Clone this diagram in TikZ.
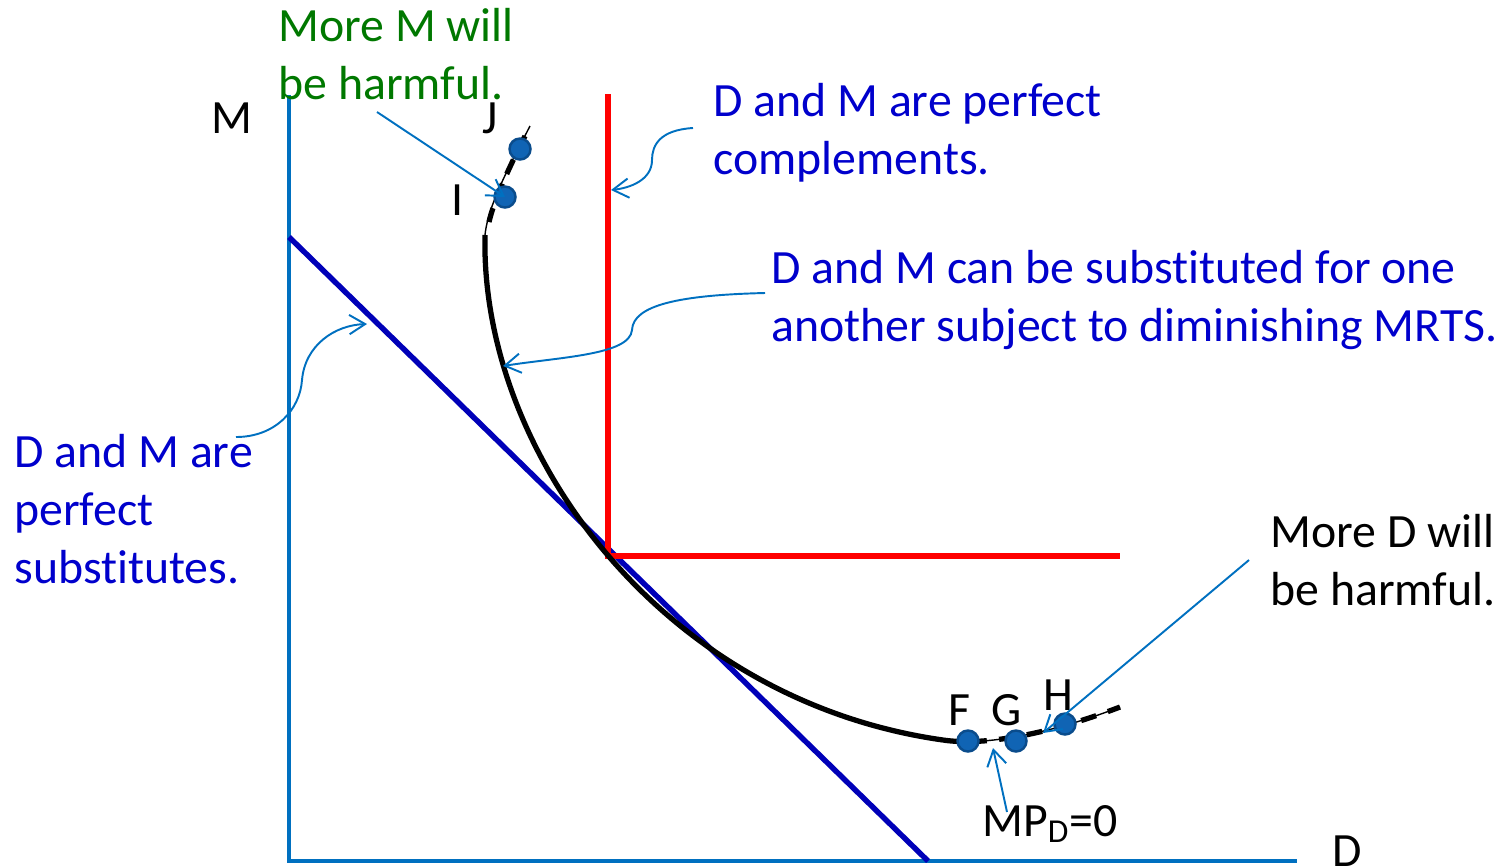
\documentclass[tikz,border=0pt]{standalone}
\usepackage{fontspec}
\setmainfont{Carlito}[RawFeature=-liga]
\usetikzlibrary{arrows.meta}
\definecolor{axisblue}{RGB}{0,112,192}
\definecolor{txtblue}{RGB}{0,0,204}
\definecolor{txtgreen}{RGB}{0,120,0}
\definecolor{dotfill}{RGB}{16,100,180}
\definecolor{dotline}{RGB}{10,76,140}
\begin{document}
\begin{tikzpicture}[x=0.02cm,y=-0.02cm,
    lbl/.style={font=\fontsize{27.2}{32.9}\selectfont,inner sep=0pt,align=left,anchor=base west},
    pt/.style={font=\fontsize{27.2}{32.9}\selectfont,inner sep=0pt},
    dot/.style={circle,fill=dotfill,draw=dotline,line width=1.4pt,minimum size=0.42cm,inner sep=0pt},
    note/.style={axisblue,line width=1.1pt,-{Straight Barb[length=9pt,width=11pt]}}]
    \useasboundingbox (0,0) rectangle (1503,867);
    % axes and the two extreme isoquants
    \draw [axisblue,line width=2.6pt] (289,95) -- (289,861) -- (1297,861);
    \draw [txtblue!90!black,line width=3.1pt] (289,237) -- (928,861);
    \draw [red,line width=3.5pt] (608,94) -- (608,556) -- (1120,556);
    \node [pt] (M) at (232,118) {M};
    \node [pt,anchor=base] (D) at (1347,866) {D};
    % the usual isoquant, dashed where it bends back
    \draw [line width=3pt] (485,235) .. controls (480,450) and (660,700) .. (943,740);
    \draw [line width=0.8pt] (530,126) .. controls (510,165) and (488,205) .. (485,235);
    \draw [line width=3pt,dash pattern=on 9pt off 6pt] (525,136) .. controls (508,170) and (494,200) .. (489,222);
    \draw [line width=0.8pt] (943,740) .. controls (990,747) and (1060,730) .. (1120,707);
    \draw [line width=3pt,dash pattern=on 9pt off 7pt] (943,740) .. controls (990,747) and (1060,730) .. (1120,707);
    \node [dot] (J) at (520,149) {};
    \node [dot] (I) at (505,197) {};
    \node [dot] (F) at (968,741) {};
    \node [dot] (G) at (1016,741) {};
    \node [dot] (H) at (1065,724) {};
    \node [pt] (labJ) at (490,118) {J};
    \node [pt] (labI) at (458,200) {I};
    \node [pt] (labF) at (959,710) {F};
    \node [pt] (labG) at (1007,710) {G};
    \node [pt] (labH) at (1058,695) {H};
    % notes
    \node [lbl,txtgreen] (harmM) at (278,99) {More M will\\be harmful.};
    \node [lbl,txtblue] (compl) at (713,174) {D and M are perfect\\complements.};
    \node [lbl,txtblue] (subst) at (771,341) {D and M can be substituted for one\\another subject to diminishing MRTS.};
    \node [lbl,txtblue] (perf) at (14,583) {D and M are\\perfect\\substitutes.};
    \node [lbl] (harmD) at (1270,605) {More D will\\be harmful.};
    \node [lbl] (mpd) at (982,836) {MP\textsubscript{D}=0};
    \coordinate (harmMtail) at (377,112);
    \coordinate (complTail) at (693,128);
    \coordinate (complTip) at (611,190);
    \coordinate (substTail) at (765,293);
    \coordinate (substTip) at (503,366);
    \coordinate (perfTail) at (236,437);
    \coordinate (perfTip) at (367,324);
    \coordinate (harmDTail) at (1249,560);
    \coordinate (harmDTip) at (1043,733);
    \coordinate (mpdTail) at (1007,812);
    \coordinate (mpdTip) at (993,748);
    \draw [note] (harmMtail) -- (I.center);
    \draw [note] (complTail) .. controls (660,130) and (652,145) .. (652,160) .. controls (652,180) and (630,188) .. (complTip);
    \draw [note] (substTail) .. controls (680,295) and (633,305) .. (632,330) .. controls (630,355) and (560,357) .. (substTip);
    \draw [note] (perfTail) .. controls (275,437) and (300,410) .. (302,380) .. controls (305,345) and (335,325) .. (perfTip);
    \draw [note] (harmDTail) -- (harmDTip);
    \draw [note] (mpdTail) -- (mpdTip);
\end{tikzpicture}
\end{document}
